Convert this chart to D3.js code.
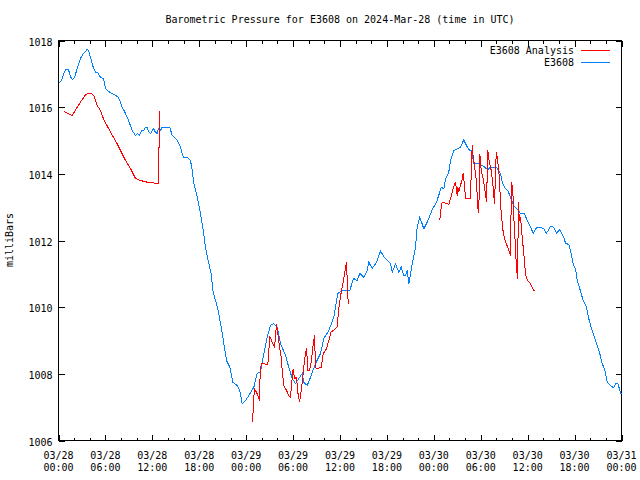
<!DOCTYPE html>
<html><head><meta charset="utf-8">
<script src="https://cdn.jsdelivr.net/npm/d3@7"></script>
<style>
body{margin:0;background:#fff;}
text{font-family:"DejaVu Sans Mono","Liberation Mono",monospace;font-size:10px;fill:#000;}
</style></head><body>
<svg id="c" width="640" height="480"></svg>
<script>
// Hours after 2024-03-28 00:00 UTC and pressure in millibars
const blueHours = [0.04,0.38,0.64,0.90,1.28,1.53,1.75,2.05,2.43,2.81,3.20,3.67,3.84,4.31,4.48,4.73,4.99,5.37,5.75,6.01,6.39,6.87,7.67,8.15,8.57,8.95,9.43,9.85,10.10,10.36,10.61,10.87,11.13,11.34,11.51,11.77,12.15,12.34,12.62,12.79,13.04,13.26,13.43,14.07,14.23,14.54,15.18,15.60,15.95,16.46,16.88,17.10,17.30,17.74,18.16,18.51,18.80,19.22,19.53,19.73,20.08,20.50,20.94,21.49,21.91,22.29,22.85,23.19,23.49,23.91,24.34,24.98,25.41,25.83,26.26,26.69,27.11,27.53,27.97,28.39,29.03,29.45,29.89,30.31,30.73,31.17,31.37,31.81,32.23,32.87,33.51,33.93,34.57,35.21,35.72,36.28,37.25,37.73,38.20,38.53,39.04,39.48,39.68,40.12,40.67,41.18,41.60,42.11,42.46,42.68,43.10,43.52,43.83,44.16,44.38,44.60,44.80,45.23,45.66,45.87,46.21,46.72,47.15,47.79,48.34,48.76,48.94,49.28,49.49,49.91,50.13,50.55,50.99,51.41,51.83,52.18,52.47,52.82,53.11,53.75,54.39,54.90,55.25,56.01,56.53,56.74,57.17,57.46,57.80,58.23,58.44,58.87,59.08,59.60,59.94,60.36,60.71,61.13,61.64,62.06,62.41,62.92,63.34,63.69,64.11,64.62,64.84,65.26,65.57,65.82,66.12,66.33,66.67,67.10,67.52,67.82,68.12,68.46,68.80,69.23,69.53,69.83,70.17,70.59,71.01,71.23,71.53,71.87,71.96];
const bluePressure = [1016.73,1016.80,1016.98,1017.12,1017.12,1016.92,1016.83,1016.89,1017.19,1017.46,1017.61,1017.73,1017.70,1017.31,1017.16,1017.05,1017.04,1016.90,1016.86,1016.56,1016.47,1016.41,1016.30,1016.00,1015.81,1015.60,1015.30,1015.15,1015.21,1015.15,1015.30,1015.30,1015.39,1015.40,1015.27,1015.21,1015.36,1015.27,1015.21,1015.36,1015.30,1015.40,1015.40,1015.40,1015.40,1015.15,1015.00,1014.80,1014.50,1014.50,1014.40,1014.10,1013.71,1013.30,1012.81,1012.30,1011.80,1011.31,1011.01,1010.50,1010.20,1009.81,1009.21,1008.40,1008.20,1007.75,1007.65,1007.50,1007.11,1007.20,1007.35,1007.60,1008.01,1008.05,1008.61,1009.10,1009.45,1009.51,1009.40,1008.91,1008.55,1008.20,1007.86,1007.71,1007.86,1008.01,1007.75,1007.65,1007.90,1008.31,1008.61,1009.06,1009.30,1009.70,1010.41,1010.50,1010.50,1010.86,1010.80,1011.01,1010.90,1011.10,1011.35,1011.16,1011.35,1011.68,1011.52,1011.40,1011.30,1011.05,1011.30,1011.05,1011.20,1010.95,1010.95,1011.10,1010.70,1011.30,1011.80,1012.40,1012.70,1012.35,1012.55,1012.92,1013.15,1013.45,1013.60,1013.55,1013.85,1014.05,1014.40,1014.70,1014.75,1014.80,1015.02,1014.85,1014.72,1014.70,1014.32,1014.30,1014.22,1014.12,1014.20,1014.20,1014.00,1013.75,1013.55,1013.50,1013.30,1013.05,1012.98,1012.90,1012.80,1012.80,1012.60,1012.40,1012.22,1012.38,1012.40,1012.35,1012.22,1012.42,1012.40,1012.22,1012.32,1012.10,1011.92,1011.88,1011.60,1011.30,1011.15,1010.80,1010.55,1010.20,1010.00,1009.65,1009.40,1009.15,1008.90,1008.60,1008.30,1008.15,1007.75,1007.65,1007.58,1007.70,1007.70,1007.45,1007.40];

// Analysis series: three separate runs (gaps between them)
const analysisHours1 = [0.68,1.11,1.75,2.26,2.81,3.45,3.88,4.18,4.51,4.95,5.37,5.79,6.65,7.51,8.15,8.57,9.21,9.85,10.49,11.34,12.41,12.83,12.83,12.96,12.96];
const analysisPressure1 = [1015.87,1015.82,1015.75,1015.95,1016.15,1016.37,1016.42,1016.42,1016.35,1016.05,1015.90,1015.63,1015.25,1014.90,1014.60,1014.40,1014.16,1013.86,1013.80,1013.75,1013.72,1013.70,1014.80,1014.80,1015.88];
const analysisHours2 = [24.85,24.90,25.07,25.41,25.74,25.74,25.92,26.26,26.77,26.90,27.02,27.33,27.62,27.75,27.88,28.05,28.30,28.48,28.61,28.81,29.16,29.45,29.67,29.89,30.01,30.18,30.44,30.60,30.82,31.04,31.24,31.46,31.72,31.88,32.10,32.32,32.52,32.74,32.87,33.00,33.60,33.85,34.27,34.88,35.21,35.64,35.84,36.06,36.36,36.58,36.83,37.05];
const analysisPressure2 = [1006.55,1007.10,1007.55,1007.40,1007.20,1007.75,1008.30,1008.30,1008.28,1008.70,1009.12,1008.95,1008.80,1009.10,1009.50,1009.20,1008.75,1008.50,1008.10,1007.65,1007.50,1007.35,1007.30,1007.90,1008.15,1007.85,1007.90,1007.45,1007.15,1007.50,1007.90,1008.40,1008.78,1008.10,1008.10,1008.35,1008.80,1009.15,1008.20,1008.16,1008.19,1008.60,1008.75,1009.27,1009.30,1009.42,1009.96,1010.32,1010.70,1011.00,1011.35,1010.10];
const analysisHours3 = [48.76,48.94,49.07,49.71,49.91,50.13,50.35,50.55,50.77,50.90,50.99,51.07,51.19,51.41,51.63,51.76,51.92,52.05,52.69,52.78,52.91,53.03,53.20,53.46,53.62,53.75,53.88,54.06,54.31,54.48,54.74,54.90,55.03,55.34,55.59,55.76,55.98,56.11,56.31,56.44,56.62,56.87,57.17,57.46,57.80,57.93,58.10,58.23,58.44,58.57,58.74,58.79,58.95,59.08,59.30,59.51,59.72,59.94,60.36,60.71,61.00];
const analysisPressure3 = [1012.60,1012.98,1013.15,1013.10,1013.08,1013.25,1013.45,1013.62,1013.75,1013.50,1013.35,1013.60,1013.45,1013.65,1013.85,1014.02,1013.65,1013.25,1013.25,1014.05,1014.85,1014.50,1014.25,1013.75,1013.00,1012.82,1014.60,1014.10,1013.85,1013.60,1013.15,1014.70,1014.45,1014.10,1013.60,1013.10,1014.65,1014.50,1014.10,1013.55,1012.80,1012.25,1011.95,1011.80,1011.55,1013.75,1013.50,1012.70,1011.80,1011.15,1010.85,1013.15,1012.60,1012.70,1012.10,1011.60,1011.00,1010.82,1010.70,1010.52,1010.48];

const yTicks = [1006,1008,1010,1012,1014,1016,1018];
const xTickHours = [0,6,12,18,24,30,36,42,48,54,60,66,72];
const xTickDates = ["03/28","03/28","03/28","03/28","03/29","03/29","03/29","03/29","03/30","03/30","03/30","03/30","03/31"];
const xTickTimes = ["00:00","06:00","12:00","18:00","00:00","06:00","12:00","18:00","00:00","06:00","12:00","18:00","00:00"];
const seriesNames = ["E3608 Analysis","E3608"];
const seriesColors = ["#ff0000","#0080ff"];

const t0 = Date.UTC(2024,2,28,0,0,0);
const toDate = h => new Date(t0 + h*3600000);

const L=58.5, R=621.5, T=40.5, B=440.5;
const svg = d3.select("#c");
const x = d3.scaleUtc().domain([toDate(0), toDate(72)]).range([L, R]);
const y = d3.scaleLinear().domain([1006,1018]).range([B, T]);

// title
svg.append("text").attr("x",340).attr("y",23).attr("text-anchor","middle")
  .text("Barometric Pressure for E3608 on 2024-Mar-28 (time in UTC)");

// axes frame
const g = svg.append("g").attr("stroke","#000").attr("stroke-width",1).attr("shape-rendering","crispEdges");
g.append("rect").attr("x",L).attr("y",T).attr("width",R-L).attr("height",B-T).attr("fill","none");

// y ticks
yTicks.forEach(v=>{
  const yy = Math.round(y(v))+0.5;
  g.append("line").attr("x1",L).attr("x2",L+6).attr("y1",yy).attr("y2",yy);
  g.append("line").attr("x1",R).attr("x2",R-6).attr("y1",yy).attr("y2",yy);
  svg.append("text").attr("x",L-6).attr("y",yy+4).attr("text-anchor","end").text(v);
});
// x minor ticks every 2 hours, major every 6
d3.range(0,73,2).forEach(h=>{
  const xx = Math.round(x(toDate(h)))+0.5;
  const len = (h%6===0)?6:3;
  g.append("line").attr("x1",xx).attr("x2",xx).attr("y1",B).attr("y2",B-len);
  g.append("line").attr("x1",xx).attr("x2",xx).attr("y1",T).attr("y2",T+len);
});
xTickHours.forEach((h,i)=>{
  const xx = x(toDate(h));
  svg.append("text").attr("x",xx).attr("y",459).attr("text-anchor","middle").text(xTickDates[i]);
  svg.append("text").attr("x",xx).attr("y",471).attr("text-anchor","middle").text(xTickTimes[i]);
});

// y label
svg.append("text").attr("transform","translate(13,240) rotate(-90)").attr("text-anchor","middle").text("milliBars");

const line = d3.line().x(d=>x(toDate(d[0]))).y(d=>y(d[1]));
const zip = (a,b)=>a.map((v,i)=>[v,b[i]]);

const plot = svg.append("g").attr("shape-rendering","crispEdges");
plot.append("path").datum(zip(blueHours,bluePressure)).attr("d",line)
  .attr("fill","none").attr("stroke",seriesColors[1]).attr("stroke-width",1);
[[analysisHours1,analysisPressure1],[analysisHours2,analysisPressure2],[analysisHours3,analysisPressure3]].forEach(([h,p])=>{
  plot.append("path").datum(zip(h,p)).attr("d",line)
    .attr("fill","none").attr("stroke",seriesColors[0]).attr("stroke-width",1);
});

// legend
const legY = [50,62];
seriesNames.forEach((n,i)=>{
  svg.append("text").attr("x",574).attr("y",legY[i]+4).attr("text-anchor","end").text(n);
  svg.append("line").attr("x1",581).attr("x2",610).attr("y1",legY[i]+0.5).attr("y2",legY[i]+0.5)
    .attr("stroke",seriesColors[i]).attr("stroke-width",1).attr("shape-rendering","crispEdges");
});
</script>
</body></html>
